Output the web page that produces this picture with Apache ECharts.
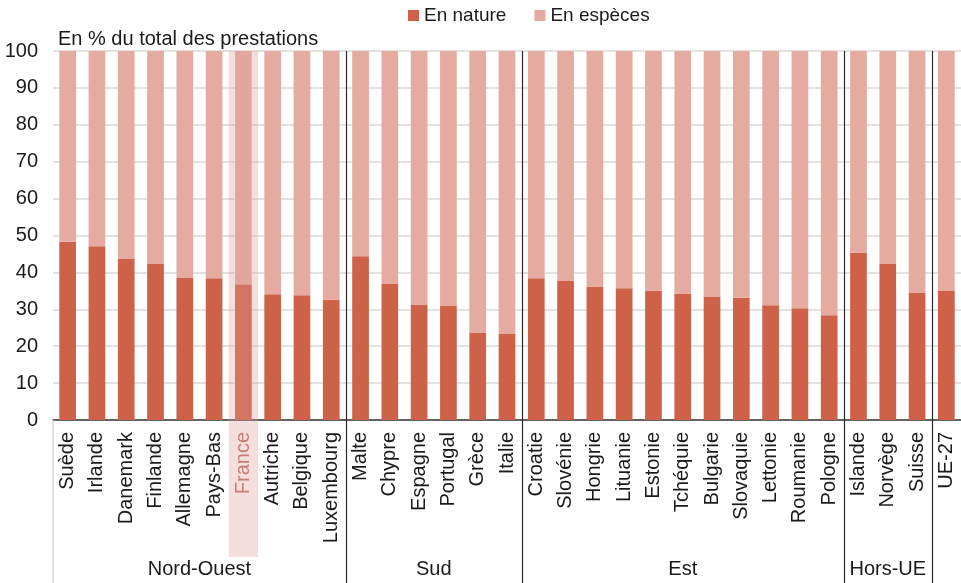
<!DOCTYPE html>
<html>
<head>
<meta charset="utf-8">
<script src="https://cdn.jsdelivr.net/npm/echarts@6/dist/echarts.min.js"></script>
<style>
  html, body { margin: 0; padding: 0; background: #ffffff; }
  #chart { width: 961px; height: 583px; }
</style>
</head>
<body>
<div id="chart"></div>
<script>
// Pays, dans l'ordre d'affichage
const countries = [
  'Suède', 'Irlande', 'Danemark', 'Finlande', 'Allemagne', 'Pays-Bas', 'France', 'Autriche', 'Belgique', 'Luxembourg',
  'Malte', 'Chypre', 'Espagne', 'Portugal', 'Grèce', 'Italie',
  'Croatie', 'Slovénie', 'Hongrie', 'Lituanie', 'Estonie', 'Tchéquie', 'Bulgarie', 'Slovaquie', 'Lettonie', 'Roumanie', 'Pologne',
  'Islande', 'Norvège', 'Suisse',
  'UE-27'
];

// Regroupements géographiques (nombre de pays par groupe)
const groupNames = ['Nord-Ouest', 'Sud', 'Est', 'Hors-UE', ''];
const groupSizes = [10, 6, 11, 3, 1];

// Part des prestations en nature (%)
const enNature = [
  48.3, 47.1, 43.6, 42.3, 38.5, 38.4, 36.8, 34.1, 33.8, 32.6,
  44.4, 37.0, 31.3, 30.9, 23.7, 23.3,
  38.4, 37.7, 36.2, 35.7, 35.0, 34.3, 33.3, 33.1, 31.1, 30.3, 28.4,
  45.3, 42.3, 34.4,
  35.1
];

// Part des prestations en espèces (%)
const enEspeces = [
  51.7, 52.9, 56.4, 57.7, 61.5, 61.6, 63.2, 65.9, 66.2, 67.4,
  55.6, 63.0, 68.7, 69.1, 76.3, 76.7,
  61.6, 62.3, 63.8, 64.3, 65.0, 65.7, 66.7, 66.9, 68.9, 69.7, 71.6,
  54.7, 57.7, 65.6,
  64.9
];

const yTicks = { min: 0, max: 100, interval: 10 };
const highlighted = 'France';

const FONT = 'Liberation Sans, Arial, sans-serif';
const FS = 20;
const colNature = '#cd6249';
const colEspeces = '#e5aba1';

const chart = echarts.init(document.getElementById('chart'), null, { renderer: 'canvas' });

chart.setOption({
  animation: false,
  backgroundColor: '#ffffff',
  textStyle: { fontFamily: FONT },
  legend: {
    left: 403,
    top: 1,
    itemWidth: 11,
    itemHeight: 11,
    itemGap: 28,
    icon: 'rect',
    textStyle: { fontSize: 19, color: '#1a1a1a', fontFamily: FONT },
    data: ['En nature', 'En espèces']
  },
  title: {
    text: 'En % du total des prestations',
    left: 53,
    top: 24,
    textStyle: { fontSize: FS, fontWeight: 'normal', color: '#1a1a1a', fontFamily: FONT }
  },
  grid: { left: 53, right: -2, top: 51, bottom: 163, containLabel: false },
  xAxis: {
    type: 'category',
    data: countries,
    axisLine: { show: true, lineStyle: { color: '#3a3a3a', width: 1.5 } },
    axisTick: { show: false },
    axisLabel: {
      rotate: 90,
      interval: 0,
      margin: 12,
      fontSize: FS,
      fontFamily: FONT,
      color: function (v) { return v === highlighted ? '#b86e64' : '#1a1a1a'; }
    }
  },
  yAxis: {
    type: 'value',
    min: yTicks.min,
    max: yTicks.max,
    interval: yTicks.interval,
    axisLine: { show: false },
    axisTick: { show: false },
    axisLabel: { fontSize: FS, color: '#1a1a1a', margin: 15, fontFamily: FONT },
    splitLine: { lineStyle: { color: '#d9d9d9', width: 1.5 } }
  },
  series: [
    {
      name: 'En nature',
      type: 'bar',
      stack: 'total',
      barWidth: '57%',
      itemStyle: { color: colNature },
      data: enNature
    },
    {
      name: 'En espèces',
      type: 'bar',
      stack: 'total',
      barWidth: '57%',
      itemStyle: { color: colEspeces },
      data: enEspeces
    }
  ]
});

// Séparateurs de groupes, libellés de groupes et surlignage de la France,
// positionnés à partir des échelles de l'axe.
function decorate() {
  const cx = i => chart.convertToPixel({ xAxisIndex: 0 }, i);
  const band = cx(1) - cx(0);
  const yTop = chart.convertToPixel({ yAxisIndex: 0 }, yTicks.max);
  const yZero = chart.convertToPixel({ yAxisIndex: 0 }, yTicks.min);
  const H = chart.getHeight();
  const elements = [];

  // Bord gauche de la zone des libellés
  const x0 = cx(0) - band / 2;
  elements.push({
    type: 'line', z: 5,
    shape: { x1: x0, y1: yZero, x2: x0, y2: H },
    style: { stroke: '#d9d9d9', lineWidth: 1.5 }
  });

  let start = 0;
  groupSizes.forEach((n, g) => {
    const left = cx(start) - band / 2;
    const right = cx(start + n - 1) + band / 2;
    if (groupNames[g]) {
      elements.push({
        type: 'text', z: 5,
        x: (left + right) / 2, y: H - 14,
        style: {
          text: groupNames[g], fill: '#1a1a1a', font: FS + 'px ' + FONT,
          align: 'center', verticalAlign: 'middle'
        }
      });
    }
    start += n;
    if (start < countries.length) {
      const xs = Math.round(right) + 0.5;
      elements.push({
        type: 'line', z: 5,
        shape: { x1: xs, y1: yTop, x2: xs, y2: H },
        style: { stroke: '#2b2b2b', lineWidth: 1.2 }
      });
    }
  });

  const fi = countries.indexOf(highlighted);
  elements.push({
    type: 'rect', z: 10,
    shape: { x: cx(fi) - band / 2, y: yTop, width: band, height: 557 - yTop },
    style: { fill: 'rgba(225,158,149,0.33)' }
  });

  chart.setOption({ graphic: { elements: elements } });
}
decorate();
</script>
</body>
</html>
